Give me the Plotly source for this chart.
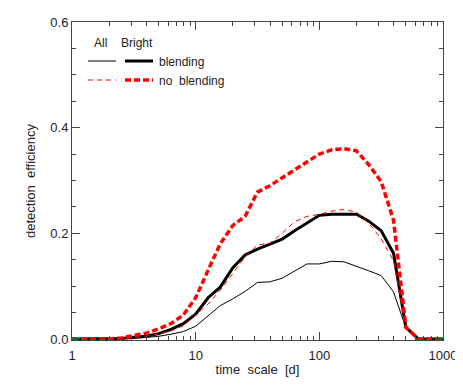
import plotly.graph_objects as go

# time scale grid [d], 0.1 dex steps
time_scale = [1.0, 1.26, 1.58, 2.0, 2.51, 3.16, 3.98, 5.01, 6.31, 7.94,
              10.0, 12.6, 15.8, 20.0, 25.1, 31.6, 39.8, 50.1, 63.1, 79.4,
              100.0, 126.0, 158.0, 200.0, 251.0, 316.0, 398.0, 501.0, 631.0, 794.0, 1000.0]

# detection efficiency curves
all_blend = [0, 0, 0, 0, 0.0005, 0.001, 0.003, 0.005, 0.009, 0.014,
             0.024, 0.043, 0.063, 0.076, 0.090, 0.107, 0.108, 0.115, 0.128, 0.142,
             0.142, 0.147, 0.146, 0.138, 0.129, 0.120, 0.089, 0.021, 0, 0, 0]
bright_blend = [0, 0, 0, 0, 0.001, 0.003, 0.005, 0.010, 0.018, 0.029,
                0.047, 0.078, 0.098, 0.135, 0.159, 0.170, 0.179, 0.189, 0.205, 0.220,
                0.234, 0.236, 0.236, 0.236, 0.223, 0.205, 0.162, 0.022, 0, 0, 0]
all_noblend = [0, 0, 0, 0, 0.001, 0.002, 0.005, 0.009, 0.015, 0.025,
               0.045, 0.066, 0.092, 0.125, 0.155, 0.178, 0.181, 0.200, 0.222, 0.232,
               0.236, 0.242, 0.245, 0.240, 0.219, 0.190, 0.148, 0.022, 0, 0, 0]
bright_noblend = [0, 0, 0, 0, 0.002, 0.006, 0.011, 0.019, 0.029, 0.045,
                  0.078, 0.130, 0.180, 0.215, 0.232, 0.278, 0.290, 0.305, 0.320, 0.334,
                  0.350, 0.358, 0.360, 0.356, 0.330, 0.298, 0.225, 0.022, 0, 0, 0]

FONT = "Liberation Sans"
AXIS = "#444444"
TXT = "#222222"

fig = go.Figure()

# draw order: black first, red on top
series = [
    (all_blend, dict(color="black", width=1)),
    (bright_blend, dict(color="black", width=3)),
    (all_noblend, dict(color="red", width=1, dash="5px,4px")),
    (bright_noblend, dict(color="red", width=3.5, dash="6px,3px")),
]
for yvals, line in series:
    fig.add_trace(go.Scatter(x=time_scale, y=yvals, mode="lines", line=line,
                             showlegend=False, hoverinfo="skip"))

# plot box in page pixels (page has an 8px body margin)
X0, X1, Y0, Y1 = 72, 443, 22, 340

def px_x(p):
    return (p - X0) / (X1 - X0)

def px_y(p):
    return (Y1 - p) / (Y1 - Y0)

# hand-made legend: two columns of samples (All / Bright)
legend_rows = [
    (61, "blending", dict(color="black", width=1), dict(color="black", width=3)),
    (80, "no\u00a0 blending", dict(color="red", width=1, dash="5px,4px"), dict(color="red", width=3.5, dash="6px,3px")),
]
for ypix, label, thin, thick in legend_rows:
    fig.add_shape(type="line", xref="paper", yref="paper",
                  x0=px_x(88), x1=px_x(116), y0=px_y(ypix), y1=px_y(ypix), line=thin)
    fig.add_shape(type="line", xref="paper", yref="paper",
                  x0=px_x(125), x1=px_x(153), y0=px_y(ypix), y1=px_y(ypix), line=thick)
    fig.add_annotation(text=label, xref="paper", yref="paper", x=px_x(157), y=px_y(ypix + 1),
                       xanchor="left", yanchor="middle", showarrow=False,
                       font=dict(family=FONT, size=12, color=TXT))

for xpix, txt in [(100, "All"), (137, "Bright")]:
    fig.add_annotation(text=txt, xref="paper", yref="paper", x=px_x(xpix), y=px_y(43),
                       xanchor="center", yanchor="middle", showarrow=False,
                       font=dict(family=FONT, size=12, color=TXT))

fig.update_xaxes(
    type="log", range=[0, 3], tickvals=[1, 10, 100, 1000], ticktext=["1", "10", "100", "1000"],
    ticks="inside", ticklen=8, tickcolor=AXIS, showline=True, linecolor=AXIS, linewidth=1,
    mirror="ticks", showgrid=False, zeroline=False, ticklabelstandoff=3,
    minor=dict(ticks="inside", ticklen=4, tickcolor=AXIS, dtick="D1", showgrid=False),
    title=dict(text="time\u00a0 scale\u00a0 [d]", font=dict(family=FONT, size=13, color=TXT), standoff=3),
    tickfont=dict(family=FONT, size=13, color=TXT),
)
fig.update_yaxes(
    range=[-0.002, 0.6], tickvals=[0, 0.2, 0.4, 0.6], tickformat=".1f",
    ticks="inside", ticklen=8, tickcolor=AXIS, showline=True, linecolor=AXIS, linewidth=1,
    mirror="ticks", showgrid=False, zeroline=False,
    minor=dict(ticks="inside", ticklen=4, tickcolor=AXIS, dtick=0.05, tick0=0, showgrid=False),
    title=dict(text="detection\u00a0 efficiency", font=dict(family=FONT, size=13, color=TXT), standoff=11),
    tickfont=dict(family=FONT, size=13, color=TXT),
)

W, H = 455, 378
fig.update_layout(
    width=W, height=H,
    margin=dict(l=X0 - 8, r=W - (X1 - 8), t=Y0 - 8, b=H - (Y1 - 8), autoexpand=False),
    paper_bgcolor="white", plot_bgcolor="white",
    showlegend=False,
)

fig.write_html("out.html")
